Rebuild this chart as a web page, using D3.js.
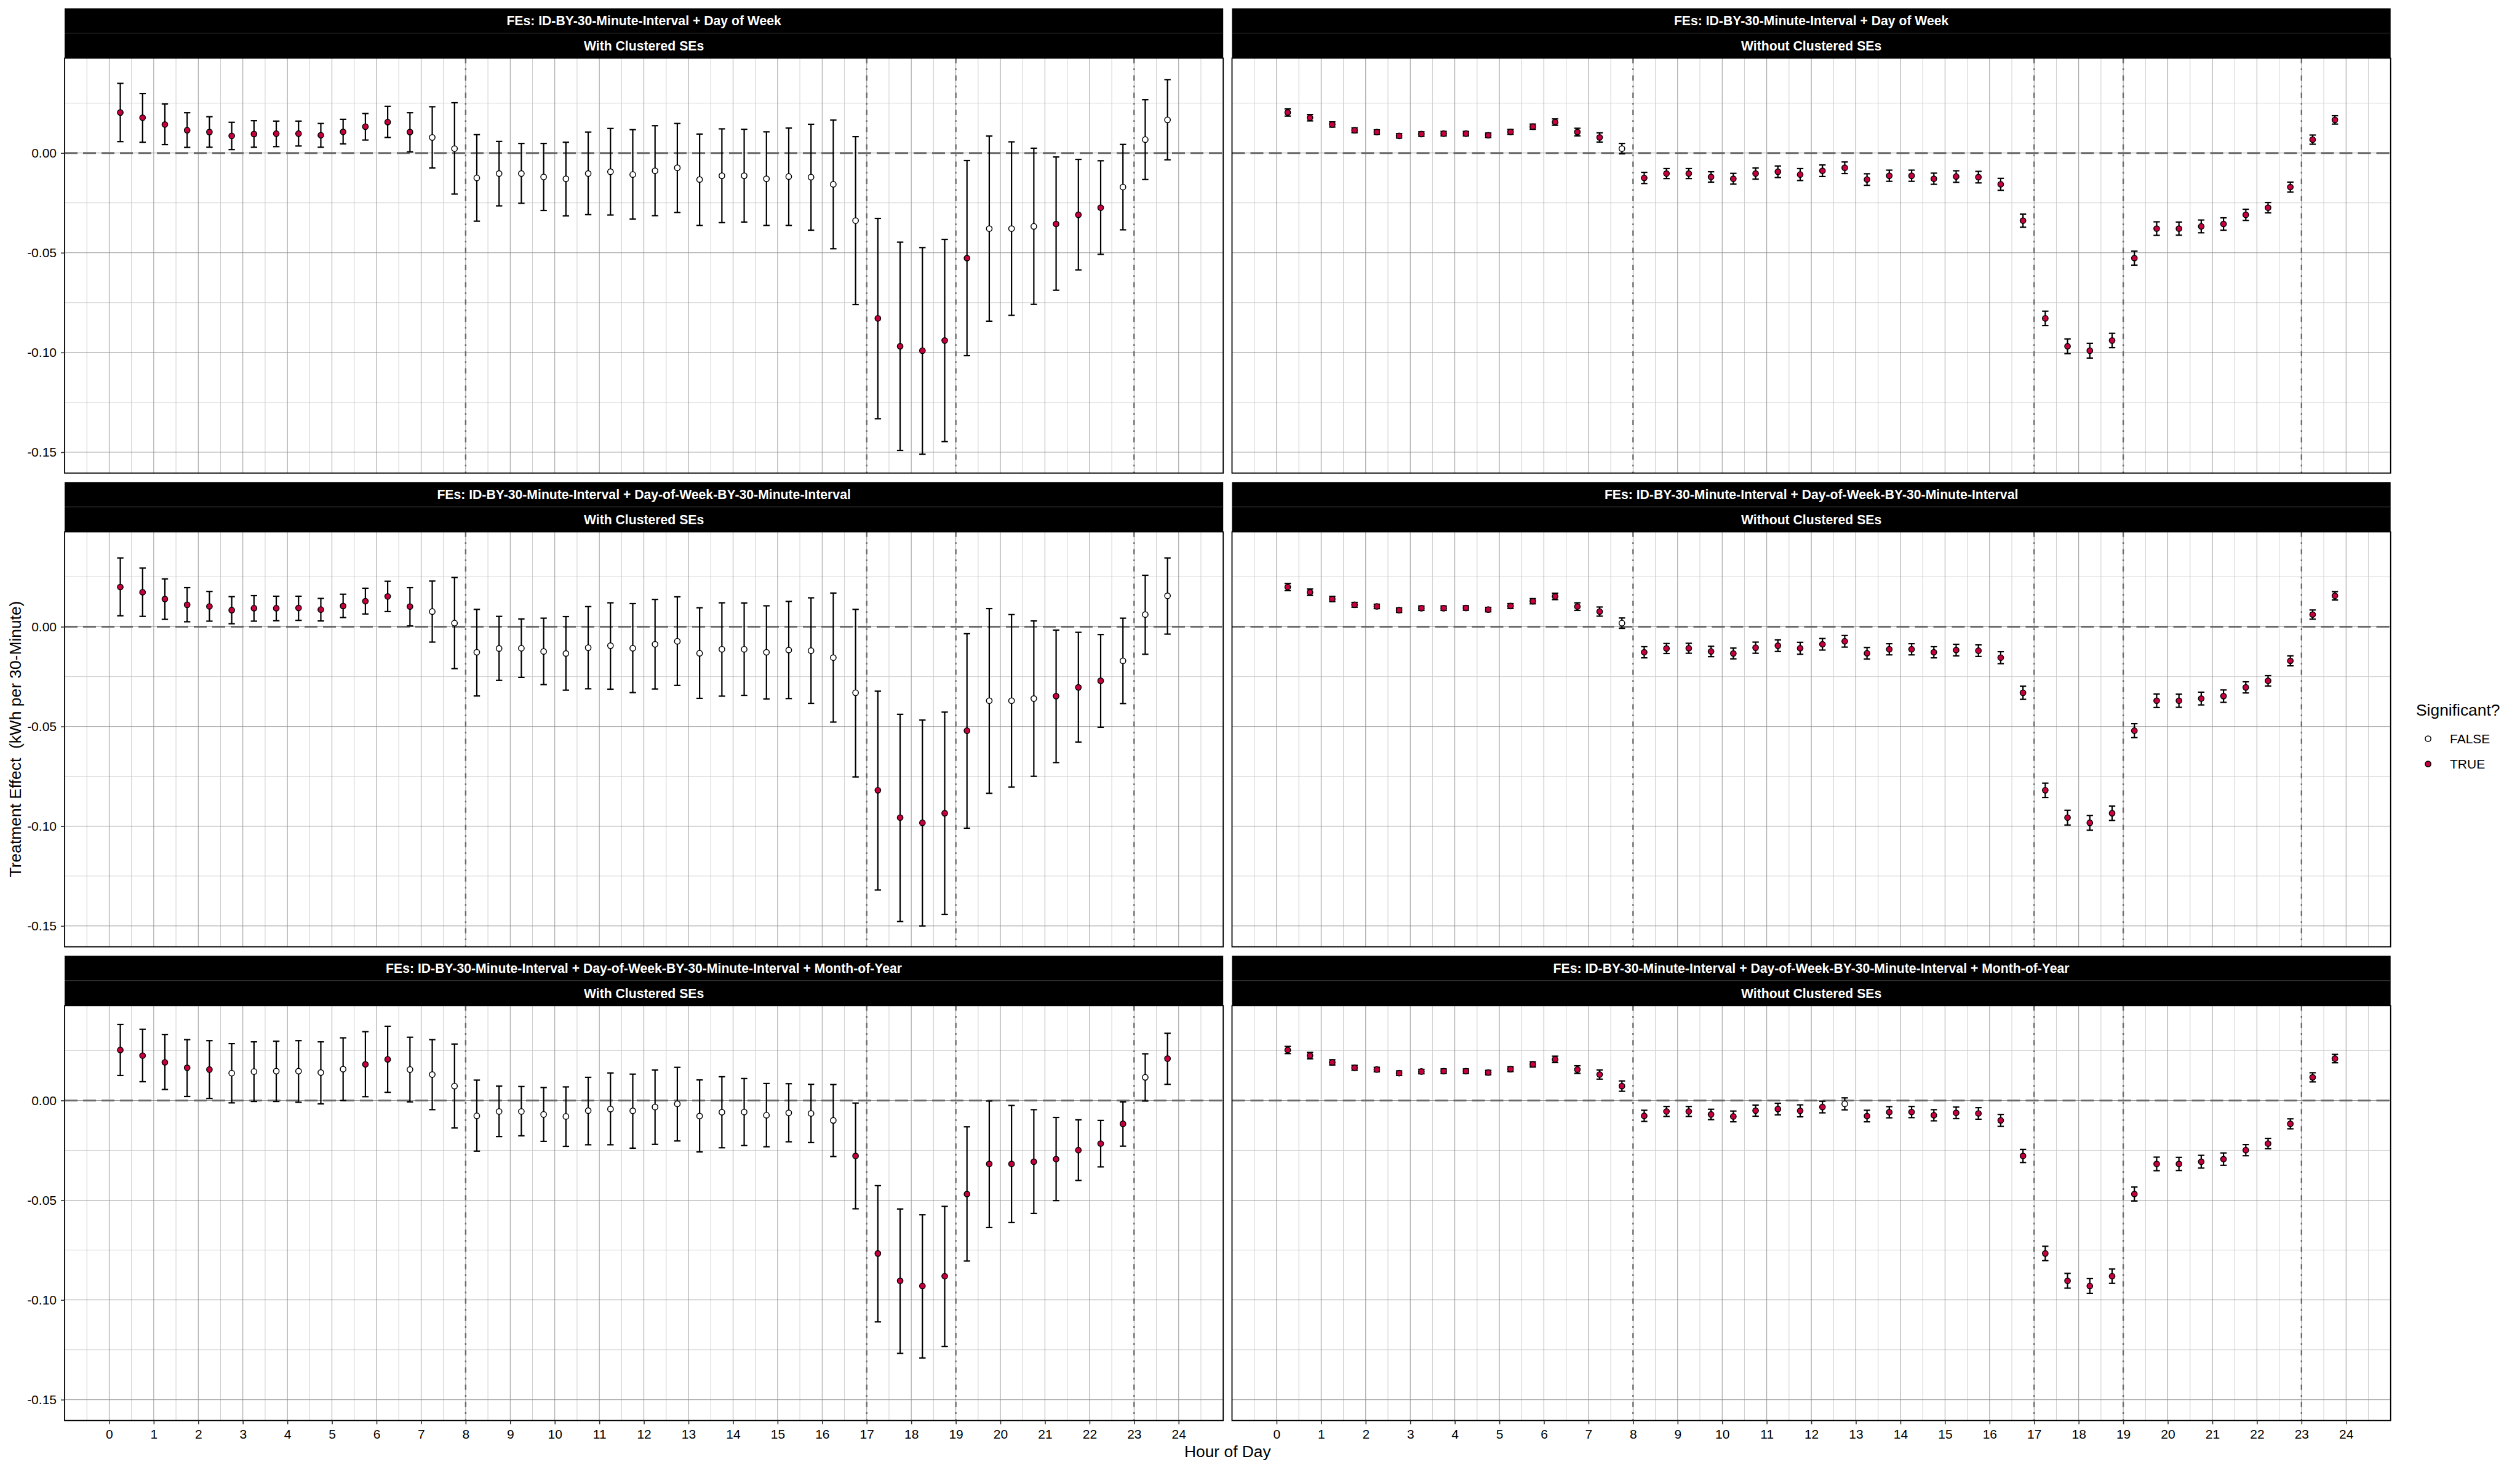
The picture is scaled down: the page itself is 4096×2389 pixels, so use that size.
<!DOCTYPE html>
<html>
<head>
<meta charset="utf-8">
<script src="https://cdn.jsdelivr.net/npm/d3@7"></script>
<style>
  html, body { margin: 0; padding: 0; background: #ffffff; }
  svg { display: block; }
  text { font-family: "Liberation Sans", Arial, Helvetica, sans-serif; }
</style>
</head>
<body>
<svg id="chart" width="4096" height="2389"></svg>
<script>
// ---------------- DATA ----------------
const hours = [0.25, 0.75, 1.25, 1.75, 2.25, 2.75, 3.25, 3.75, 4.25, 4.75, 5.25, 5.75,
  6.25, 6.75, 7.25, 7.75, 8.25, 8.75, 9.25, 9.75, 10.25, 10.75, 11.25, 11.75,
  12.25, 12.75, 13.25, 13.75, 14.25, 14.75, 15.25, 15.75, 16.25, 16.75, 17.25, 17.75,
  18.25, 18.75, 19.25, 19.75, 20.25, 20.75, 21.25, 21.75, 22.25, 22.75, 23.25, 23.75];

const xTickLabels = [0, 1, 2, 3, 4, 5, 6, 7, 8, 9, 10, 11, 12, 13, 14, 15, 16, 17, 18, 19, 20, 21, 22, 23, 24];
const yTickLabels = [0.00, -0.05, -0.10, -0.15];
const peakLines = [8, 17, 19, 23];

const rowTitles = [
  "FEs: ID-BY-30-Minute-Interval + Day of Week",
  "FEs: ID-BY-30-Minute-Interval + Day-of-Week-BY-30-Minute-Interval",
  "FEs: ID-BY-30-Minute-Interval + Day-of-Week-BY-30-Minute-Interval + Month-of-Year"
];
const colTitles = ["With Clustered SEs", "Without Clustered SEs"];

// Row 1: FEs ID-BY-30-Minute-Interval + Day of Week
const est1 = [0.0203, 0.0177, 0.0143, 0.0114, 0.0105, 0.0086, 0.0095, 0.0097, 0.0097, 0.0089, 0.0106, 0.0132,
  0.0155, 0.0105, 0.0078, 0.0022, -0.0125, -0.0103, -0.0103, -0.0120, -0.0129, -0.0103, -0.0094, -0.0108,
  -0.0089, -0.0074, -0.0133, -0.0114, -0.0114, -0.0129, -0.0118, -0.0121, -0.0157, -0.0339, -0.0829, -0.0969,
  -0.0991, -0.0940, -0.0527, -0.0379, -0.0379, -0.0368, -0.0356, -0.0310, -0.0274, -0.0171, 0.0067, 0.0166];
const lo1 = [0.0057, 0.0054, 0.0042, 0.0028, 0.0029, 0.0017, 0.0029, 0.0032, 0.0035, 0.0029, 0.0046, 0.0065,
  0.0078, 0.0006, -0.0075, -0.0206, -0.0342, -0.0265, -0.0252, -0.0288, -0.0315, -0.0309, -0.0311, -0.0331,
  -0.0314, -0.0298, -0.0363, -0.0349, -0.0346, -0.0363, -0.0363, -0.0387, -0.0480, -0.0760, -0.1332, -0.1491,
  -0.1510, -0.1447, -0.1016, -0.0843, -0.0814, -0.0759, -0.0688, -0.0586, -0.0508, -0.0385, -0.0133, -0.0034];
const hi1 = [0.0349, 0.0298, 0.0246, 0.0202, 0.0182, 0.0154, 0.0162, 0.0160, 0.0160, 0.0148, 0.0169, 0.0198,
  0.0234, 0.0202, 0.0232, 0.0252, 0.0092, 0.0058, 0.0048, 0.0048, 0.0054, 0.0105, 0.0123, 0.0117,
  0.0137, 0.0148, 0.0095, 0.0121, 0.0119, 0.0106, 0.0125, 0.0144, 0.0165, 0.0082, -0.0328, -0.0447,
  -0.0474, -0.0433, -0.0038, 0.0085, 0.0056, 0.0024, -0.0020, -0.0032, -0.0039, 0.0043, 0.0267, 0.0368];
const sigClustered1 = [1,1,1,1,1,1,1,1,1,1,1,1, 1,1,0,0,0,0,0,0,0,0,0,0,
  0,0,0,0,0,0,0,0,0,0,1,1, 1,1,1,0,0,0,1,1,1,0,0,0];
const halfNoCluster1 = [0.0018, 0.0016, 0.0013, 0.0012, 0.0011, 0.0011, 0.0011, 0.0011, 0.0011, 0.0011, 0.0012, 0.0013,
  0.0016, 0.0019, 0.0023, 0.0026, 0.0028, 0.0025, 0.0025, 0.0026, 0.0027, 0.0028, 0.0029, 0.0030,
  0.0029, 0.0029, 0.0029, 0.0028, 0.0028, 0.0028, 0.0029, 0.0029, 0.0030, 0.0033, 0.0036, 0.0037,
  0.0037, 0.0036, 0.0035, 0.0034, 0.0033, 0.0032, 0.0031, 0.0028, 0.0026, 0.0025, 0.0023, 0.0021];
const sigNoCluster1 = [1,1,1,1,1,1,1,1,1,1,1,1, 1,1,1,0,1,1,1,1,1,1,1,1,
  1,1,1,1,1,1,1,1,1,1,1,1, 1,1,1,1,1,1,1,1,1,1,1,1];

// Row 2: + Day-of-Week-BY-30-Minute-Interval
const est2 = [0.0199, 0.0173, 0.0139, 0.0110, 0.0102, 0.0083, 0.0093, 0.0093, 0.0094, 0.0086, 0.0104, 0.0128,
  0.0152, 0.0101, 0.0076, 0.0018, -0.0128, -0.0109, -0.0108, -0.0124, -0.0134, -0.0105, -0.0095, -0.0108,
  -0.0088, -0.0073, -0.0133, -0.0113, -0.0113, -0.0128, -0.0117, -0.0120, -0.0155, -0.0331, -0.0820, -0.0957,
  -0.0983, -0.0935, -0.0521, -0.0371, -0.0371, -0.0360, -0.0348, -0.0304, -0.0271, -0.0171, 0.0061, 0.0155];
const lo2 = [0.0055, 0.0052, 0.0037, 0.0025, 0.0028, 0.0015, 0.0028, 0.0030, 0.0032, 0.0029, 0.0046, 0.0064,
  0.0076, 0.0004, -0.0077, -0.0210, -0.0347, -0.0269, -0.0254, -0.0290, -0.0318, -0.0311, -0.0313, -0.0330,
  -0.0312, -0.0294, -0.0359, -0.0348, -0.0344, -0.0362, -0.0360, -0.0384, -0.0478, -0.0753, -0.1320, -0.1478,
  -0.1500, -0.1442, -0.1010, -0.0835, -0.0804, -0.0750, -0.0681, -0.0578, -0.0504, -0.0385, -0.0138, -0.0037];
const hi2 = [0.0345, 0.0294, 0.0240, 0.0196, 0.0177, 0.0151, 0.0156, 0.0153, 0.0153, 0.0142, 0.0163, 0.0193,
  0.0228, 0.0196, 0.0229, 0.0247, 0.0087, 0.0052, 0.0039, 0.0043, 0.0051, 0.0101, 0.0120, 0.0116,
  0.0137, 0.0150, 0.0095, 0.0120, 0.0119, 0.0105, 0.0127, 0.0145, 0.0169, 0.0087, -0.0323, -0.0439,
  -0.0468, -0.0428, -0.0035, 0.0091, 0.0061, 0.0029, -0.0017, -0.0028, -0.0039, 0.0043, 0.0258, 0.0345];
const sigClustered2 = [1,1,1,1,1,1,1,1,1,1,1,1, 1,1,0,0,0,0,0,0,0,0,0,0,
  0,0,0,0,0,0,0,0,0,0,1,1, 1,1,1,0,0,0,1,1,1,0,0,0];
const halfNoCluster2 = [0.0018, 0.0016, 0.0013, 0.0012, 0.0011, 0.0011, 0.0011, 0.0011, 0.0011, 0.0011, 0.0012, 0.0013,
  0.0016, 0.0019, 0.0023, 0.0026, 0.0028, 0.0025, 0.0025, 0.0026, 0.0027, 0.0028, 0.0029, 0.0030,
  0.0029, 0.0029, 0.0029, 0.0028, 0.0028, 0.0028, 0.0029, 0.0029, 0.0030, 0.0033, 0.0036, 0.0037,
  0.0037, 0.0036, 0.0035, 0.0034, 0.0033, 0.0032, 0.0031, 0.0028, 0.0026, 0.0025, 0.0023, 0.0021];
const sigNoCluster2 = [1,1,1,1,1,1,1,1,1,1,1,1, 1,1,1,0,1,1,1,1,1,1,1,1,
  1,1,1,1,1,1,1,1,1,1,1,1, 1,1,1,1,1,1,1,1,1,1,1,1];

// Row 3: + Month-of-Year
const est3 = [0.0253, 0.0225, 0.0191, 0.0164, 0.0155, 0.0137, 0.0145, 0.0147, 0.0147, 0.0140, 0.0157, 0.0181,
  0.0206, 0.0155, 0.0130, 0.0072, -0.0077, -0.0055, -0.0055, -0.0070, -0.0080, -0.0051, -0.0043, -0.0052,
  -0.0033, -0.0017, -0.0078, -0.0059, -0.0058, -0.0074, -0.0062, -0.0065, -0.0100, -0.0278, -0.0767, -0.0904,
  -0.0930, -0.0881, -0.0469, -0.0318, -0.0318, -0.0307, -0.0294, -0.0249, -0.0216, -0.0117, 0.0116, 0.0210];
const lo3 = [0.0125, 0.0094, 0.0055, 0.0020, 0.0010, -0.0012, -0.0005, -0.0005, -0.0009, -0.0017, 0.0000, 0.0019,
  0.0041, -0.0007, -0.0046, -0.0138, -0.0254, -0.0181, -0.0177, -0.0205, -0.0230, -0.0222, -0.0222, -0.0239,
  -0.0220, -0.0203, -0.0258, -0.0237, -0.0226, -0.0232, -0.0207, -0.0211, -0.0281, -0.0543, -0.1110, -0.1268,
  -0.1291, -0.1233, -0.0805, -0.0637, -0.0612, -0.0566, -0.0502, -0.0401, -0.0333, -0.0229, -0.0003, 0.0081];
const hi3 = [0.0381, 0.0357, 0.0331, 0.0305, 0.0300, 0.0285, 0.0294, 0.0297, 0.0300, 0.0294, 0.0314, 0.0345,
  0.0372, 0.0317, 0.0305, 0.0283, 0.0102, 0.0072, 0.0070, 0.0065, 0.0068, 0.0116, 0.0138, 0.0132,
  0.0153, 0.0166, 0.0103, 0.0119, 0.0110, 0.0085, 0.0084, 0.0081, 0.0080, -0.0013, -0.0427, -0.0544,
  -0.0573, -0.0531, -0.0132, -0.0003, -0.0025, -0.0046, -0.0085, -0.0097, -0.0100, -0.0007, 0.0234, 0.0337];
const sigClustered3 = [1,1,1,1,1,0,0,0,0,0,0,1, 1,0,0,0,0,0,0,0,0,0,0,0,
  0,0,0,0,0,0,0,0,0,1,1,1, 1,1,1,1,1,1,1,1,1,1,0,1];
const halfNoCluster3 = [0.0018, 0.0016, 0.0013, 0.0012, 0.0011, 0.0011, 0.0011, 0.0011, 0.0011, 0.0011, 0.0012, 0.0013,
  0.0016, 0.0019, 0.0023, 0.0026, 0.0028, 0.0025, 0.0025, 0.0026, 0.0027, 0.0028, 0.0029, 0.0030,
  0.0029, 0.0030, 0.0029, 0.0028, 0.0028, 0.0028, 0.0029, 0.0029, 0.0030, 0.0033, 0.0036, 0.0037,
  0.0037, 0.0036, 0.0035, 0.0034, 0.0033, 0.0032, 0.0031, 0.0028, 0.0026, 0.0025, 0.0023, 0.0021];
const sigNoCluster3 = [1,1,1,1,1,1,1,1,1,1,1,1, 1,1,1,1,1,1,1,1,1,1,1,1,
  1,0,1,1,1,1,1,1,1,1,1,1, 1,1,1,1,1,1,1,1,1,1,1,1];

const legendTitle = "Significant?";
const legendLabels = ["FALSE", "TRUE"];

// ---------------- BUILD PANELS ----------------
function clustered(est, lo, hi, sig) {
  return hours.map((h, i) => ({ h: h, est: est[i], lo: lo[i], hi: hi[i], sig: sig[i] === 1 }));
}
function noCluster(est, half, sig) {
  return hours.map((h, i) => ({ h: h, est: est[i], lo: est[i] - half[i], hi: est[i] + half[i], sig: sig[i] === 1 }));
}
const rows = [
  [clustered(est1, lo1, hi1, sigClustered1), noCluster(est1, halfNoCluster1, sigNoCluster1)],
  [clustered(est2, lo2, hi2, sigClustered2), noCluster(est2, halfNoCluster2, sigNoCluster2)],
  [clustered(est3, lo3, hi3, sigClustered3), noCluster(est3, halfNoCluster3, sigNoCluster3)]
];

// ---------------- LAYOUT ----------------
const RED = "#C6003D";
const FONT = "'Liberation Sans', Arial, Helvetica, sans-serif";
const colX = [105.0, 2002.5];
const panelW = 1883.2;
const rowTop = [13.5, 783.4, 1553.3];
const stripH = 81;
const panelH = 674.3;

const allVals = rows.flat(2).flatMap(d => [d.lo, d.hi]);
const yMin = d3.min(allVals), yMax = d3.max(allVals);
const pad = (yMax - yMin) * 0.05;

const x = d3.scaleLinear().domain([-1, 25]).range([0, panelW]);
const y = d3.scaleLinear().domain([yMin - pad, yMax + pad]).range([panelH, 0]);

const svg = d3.select("#chart");
svg.append("rect").attr("width", 4096).attr("height", 2389).attr("fill", "#ffffff");

const xMinor = d3.range(-0.5, 25, 1);
const yMinor = [0.025, -0.025, -0.075, -0.125];

rows.forEach((row, r) => {
  row.forEach((data, c) => {
    const g = svg.append("g").attr("transform", `translate(${colX[c]},${rowTop[r]})`);

    // strips
    g.append("rect").attr("x", 0).attr("y", 0).attr("width", panelW).attr("height", stripH / 2).attr("fill", "#000");
    g.append("rect").attr("x", 0).attr("y", stripH / 2).attr("width", panelW).attr("height", stripH / 2).attr("fill", "#000");
    g.append("line").attr("x1", 0).attr("x2", panelW).attr("y1", stripH / 2).attr("y2", stripH / 2)
      .attr("stroke", "#333").attr("stroke-width", 0.8);
    g.append("text").attr("x", panelW / 2).attr("y", stripH / 4).attr("text-anchor", "middle")
      .attr("dominant-baseline", "central").attr("fill", "#fff").attr("font-weight", "bold")
      .attr("font-size", 21.2).text(rowTitles[r]);
    g.append("text").attr("x", panelW / 2).attr("y", stripH * 3 / 4).attr("text-anchor", "middle")
      .attr("dominant-baseline", "central").attr("fill", "#fff").attr("font-weight", "bold")
      .attr("font-size", 21.2).text(colTitles[c]);

    const p = g.append("g").attr("transform", `translate(0,${stripH})`);
    p.append("rect").attr("width", panelW).attr("height", panelH).attr("fill", "#fff");

    // minor grid
    p.selectAll(".gxm").data(xMinor).enter().append("line")
      .attr("x1", d => x(d)).attr("x2", d => x(d)).attr("y1", 0).attr("y2", panelH)
      .attr("stroke", "#c9c9c9").attr("stroke-width", 0.9);
    p.selectAll(".gym").data(yMinor).enter().append("line")
      .attr("x1", 0).attr("x2", panelW).attr("y1", d => y(d)).attr("y2", d => y(d))
      .attr("stroke", "#c9c9c9").attr("stroke-width", 0.9);
    // major grid
    p.selectAll(".gx").data(xTickLabels).enter().append("line")
      .attr("x1", d => x(d)).attr("x2", d => x(d)).attr("y1", 0).attr("y2", panelH)
      .attr("stroke", "#8f8f8f").attr("stroke-width", 0.9);
    p.selectAll(".gy").data(yTickLabels).enter().append("line")
      .attr("x1", 0).attr("x2", panelW).attr("y1", d => y(d)).attr("y2", d => y(d))
      .attr("stroke", "#8f8f8f").attr("stroke-width", 0.9);

    // reference lines
    p.append("line").attr("x1", 0).attr("x2", panelW).attr("y1", y(0)).attr("y2", y(0))
      .attr("stroke", "#6b6b6b").attr("stroke-width", 3).attr("stroke-dasharray", "21,9");
    p.selectAll(".vl").data(peakLines).enter().append("line")
      .attr("x1", d => x(d)).attr("x2", d => x(d)).attr("y1", 0).attr("y2", panelH)
      .attr("stroke", "#6b6b6b").attr("stroke-width", 2.4).attr("stroke-dasharray", "8.4,8.4,2.8,8.4");

    // error bars
    const cap = 5.2;
    const eb = p.selectAll(".eb").data(data).enter().append("g");
    eb.append("line").attr("x1", d => x(d.h)).attr("x2", d => x(d.h))
      .attr("y1", d => y(d.hi)).attr("y2", d => y(d.lo))
      .attr("stroke", "#000").attr("stroke-width", 2.2);
    eb.append("line").attr("x1", d => x(d.h) - cap).attr("x2", d => x(d.h) + cap)
      .attr("y1", d => y(d.hi)).attr("y2", d => y(d.hi))
      .attr("stroke", "#000").attr("stroke-width", 2.2);
    eb.append("line").attr("x1", d => x(d.h) - cap).attr("x2", d => x(d.h) + cap)
      .attr("y1", d => y(d.lo)).attr("y2", d => y(d.lo))
      .attr("stroke", "#000").attr("stroke-width", 2.2);

    // points
    p.selectAll(".pt").data(data).enter().append("circle")
      .attr("cx", d => x(d.h)).attr("cy", d => y(d.est)).attr("r", 4.6)
      .attr("fill", d => d.sig ? RED : "#fff")
      .attr("stroke", "#000").attr("stroke-width", 1.5);

    // border
    p.append("rect").attr("width", panelW).attr("height", panelH)
      .attr("fill", "none").attr("stroke", "#000").attr("stroke-width", 1.8);

    // axes
    if (c === 0) {
      const ya = p.append("g").call(d3.axisLeft(y).tickValues(yTickLabels).tickSize(6).tickPadding(7)
        .tickFormat(d => d.toFixed(2)));
      ya.select(".domain").remove();
      ya.selectAll("line").attr("stroke", "#333").attr("stroke-width", 1.6);
      ya.selectAll("text").attr("font-size", 21).attr("fill", "#000").attr("font-family", FONT);
    }
    if (r === 2) {
      const xa = p.append("g").attr("transform", `translate(0,${panelH})`)
        .call(d3.axisBottom(x).tickValues(xTickLabels).tickSize(6).tickPadding(8).tickFormat(d => String(d)));
      xa.select(".domain").remove();
      xa.selectAll("line").attr("stroke", "#333").attr("stroke-width", 1.6);
      xa.selectAll("text").attr("font-size", 21).attr("fill", "#000").attr("font-family", FONT);
    }
  });
});

// axis titles
svg.append("text").attr("x", (colX[0] + colX[1] + panelW) / 2).attr("y", 2359)
  .attr("text-anchor", "middle").attr("dominant-baseline", "central")
  .attr("font-size", 26.4).attr("fill", "#000").text("Hour of Day");
svg.append("text").attr("transform", "translate(24.6,1201) rotate(-90)")
  .attr("text-anchor", "middle").attr("dominant-baseline", "central")
  .attr("font-size", 26.4).attr("fill", "#000").style("white-space", "pre")
  .text("Treatment Effect  (kWh per 30-Minute)");

// legend
const lg = svg.append("g");
lg.append("text").attr("x", 3927).attr("y", 1163).attr("font-size", 26.4).attr("fill", "#000").text(legendTitle);
const legendY = [1200.5, 1241.6];
legendLabels.forEach((lab, i) => {
  lg.append("circle").attr("cx", 3946.6).attr("cy", legendY[i]).attr("r", 4.6)
    .attr("fill", lab === "TRUE" ? RED : "#fff").attr("stroke", "#000").attr("stroke-width", 1.5);
  lg.append("text").attr("x", 3982).attr("y", legendY[i]).attr("dominant-baseline", "central")
    .attr("font-size", 21).attr("fill", "#000").text(lab);
});
</script>
</body>
</html>
